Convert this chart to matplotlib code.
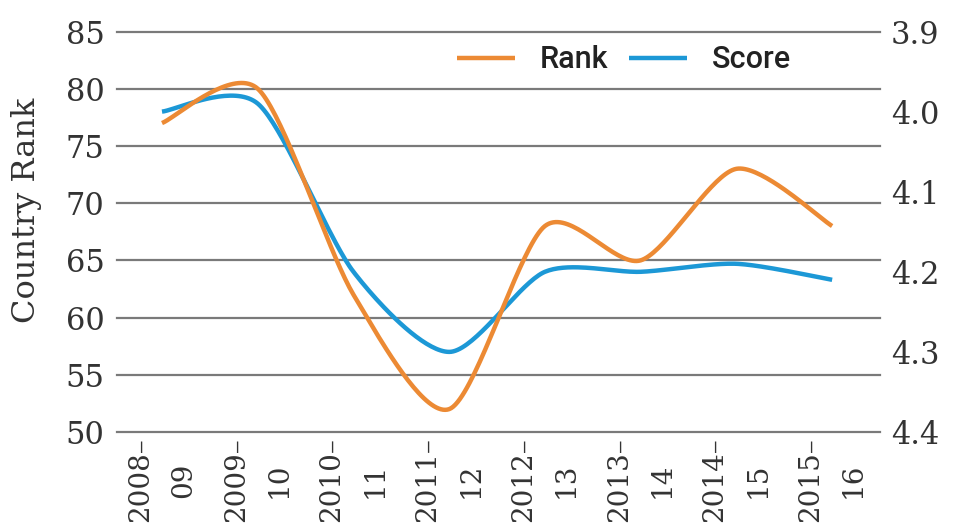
import numpy as np
import matplotlib
matplotlib.use("Agg")
import matplotlib.pyplot as plt

categories = ["2008–\n09", "2009–\n10", "2010–\n11", "2011–\n12",
              "2012–\n13", "2013–\n14", "2014–\n15", "2015–\n16"]
rank = [77, 80, 62, 52, 68, 65, 73, 68]
score = [4.00, 3.99, 4.20, 4.30, 4.20, 4.20, 4.19, 4.21]
rank_ticks = [50, 55, 60, 65, 70, 75, 80, 85]
score_ticks = [3.9, 4.0, 4.1, 4.2, 4.3, 4.4]

ORANGE = "#EC8A34"
BLUE = "#1C98D6"
GRID = "#7a7a7a"
SERIF = "DejaVu Serif"


def cardinal(x, y, c=0.4, n=40):
    """Smooth cardinal (Hermite) spline through the points."""
    p = np.column_stack([x, y]).astype(float)
    pe = np.vstack([p[0], p, p[-1]])
    m = c * (pe[2:] - pe[:-2])
    t = np.linspace(0, 1, n)[:, None]
    h00 = 2 * t ** 3 - 3 * t ** 2 + 1
    h10 = t ** 3 - 2 * t ** 2 + t
    h01 = -2 * t ** 3 + 3 * t ** 2
    h11 = t ** 3 - t ** 2
    out = []
    for i in range(len(p) - 1):
        seg = h00 * p[i] + h10 * m[i] + h01 * p[i + 1] + h11 * m[i + 1]
        out.append(seg if i == 0 else seg[1:])
    s = np.vstack(out)
    return s[:, 0], s[:, 1]


fig = plt.figure(figsize=(9.54, 5.29), dpi=100)
ax = fig.add_axes([117 / 954, 1 - 432 / 529, (880 - 117) / 954, (432 - 31.5) / 529])
ax2 = ax.twinx()

x = np.arange(len(categories))
ax.set_xlim(-0.47, 7.5)
ax.set_ylim(50, 85)
ax2.set_ylim(4.4, 3.9)

for v in rank_ticks:
    ax.axhline(v, color=GRID, lw=1.6, clip_on=False, zorder=0)

xs, ys = cardinal(x, score)
ax2.plot(xs, ys, color=BLUE, lw=3.2, solid_capstyle="butt", label="Score", zorder=3)
xr, yr = cardinal(x, rank)
ax2.plot(xr, yr, color=ORANGE, lw=3.2, solid_capstyle="butt", label="Rank",
         transform=ax.transData, zorder=4)

for a in (ax, ax2):
    for s in a.spines.values():
        s.set_visible(False)

ax.set_yticks(rank_ticks)
ax.set_yticklabels([str(v) for v in rank_ticks], fontsize=22, family=SERIF, color="#333333")
ax.tick_params(axis="y", length=0, pad=9)
ax2.set_yticks(score_ticks)
ax2.set_yticklabels([f"{v:.1f}" for v in score_ticks], fontsize=22, family=SERIF, color="#333333")
ax2.tick_params(axis="y", length=0, pad=8)

ax.set_xticks(x)
ax.set_xticklabels(categories, rotation=90, fontsize=20, family=SERIF, color="#333333",
                   ha="center", va="top", linespacing=1.75)
ax.tick_params(axis="x", length=0, pad=4)

fig.text(27 / 954, 1 - 210 / 529, "Country Rank", rotation=90, fontsize=23, family=SERIF,
         color="#333333", ha="center", va="center")

h, l = ax2.get_legend_handles_labels()
leg = ax2.legend([h[1], h[0]], [l[1], l[0]], loc="center", bbox_to_anchor=(624 / 954, 1 - 60 / 529),
                 bbox_transform=fig.transFigure, ncol=2, frameon=False,
                 prop={"family": "Roboto", "size": 22, "weight": "medium"}, handlelength=1.9,
                 handletextpad=0.8, columnspacing=0.7)
for t in leg.get_texts():
    t.set_color("#222222")

fig.savefig("out.png", dpi=100)
